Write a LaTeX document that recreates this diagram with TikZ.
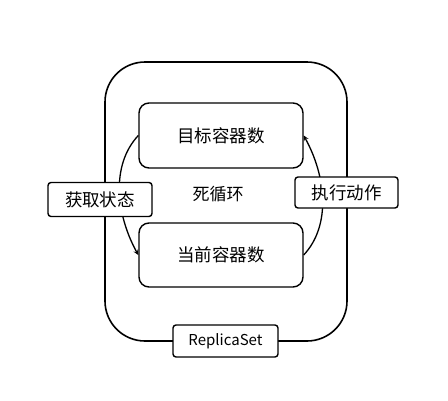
\documentclass[tikz,border=0pt]{standalone}
\usepackage{fontspec}
\setmainfont{Noto Sans CJK SC}
\usetikzlibrary{arrows}
\tikzset{
  state/.style={draw, line width=1.4pt, rounded corners=10pt, minimum width=164pt, minimum height=65pt, font=\fontsize{17.5}{20}\selectfont},
  tag/.style={draw, line width=1.4pt, rounded corners=3pt, fill=white, inner sep=0pt, font=\fontsize{17.5}{20}\selectfont}
}
\begin{document}
\begin{tikzpicture}[x=1pt, y=-1pt, >=stealth]
  \useasboundingbox (0,0) rectangle (448,400);

  % the loop frame
  \node[draw, line width=1.6pt, rounded corners=40pt, minimum width=242pt, minimum height=279pt] (loop) at (226,201.5) {};

  \node[state] (target) at (221,135.5) {目标容器数};
  \node[state, minimum height=64pt] (current) at (221,255) {当前容器数};
  \node[font=\fontsize{17}{20}\selectfont] (forever) at (218,194) {死循环};

  % control arcs
  \draw[->, line width=1.3pt] (target.west) .. controls +(-28,30) and +(-22,-40) .. (current.west);
  \draw[->, line width=1.3pt] (current.east) .. controls +(28,-30) and +(22,40) .. (target.east);

  \node[tag, minimum width=104pt, minimum height=34pt] (observe) at (100,199.5) {获取状态};
  \node[tag, minimum width=103pt, minimum height=31pt] (act) at (346.5,192.5) {执行动作};
  \node[tag, minimum width=105pt, minimum height=32pt, font=\fontsize{15}{18}\selectfont] (rs) at (225.5,341) {ReplicaSet};
\end{tikzpicture}
\end{document}
